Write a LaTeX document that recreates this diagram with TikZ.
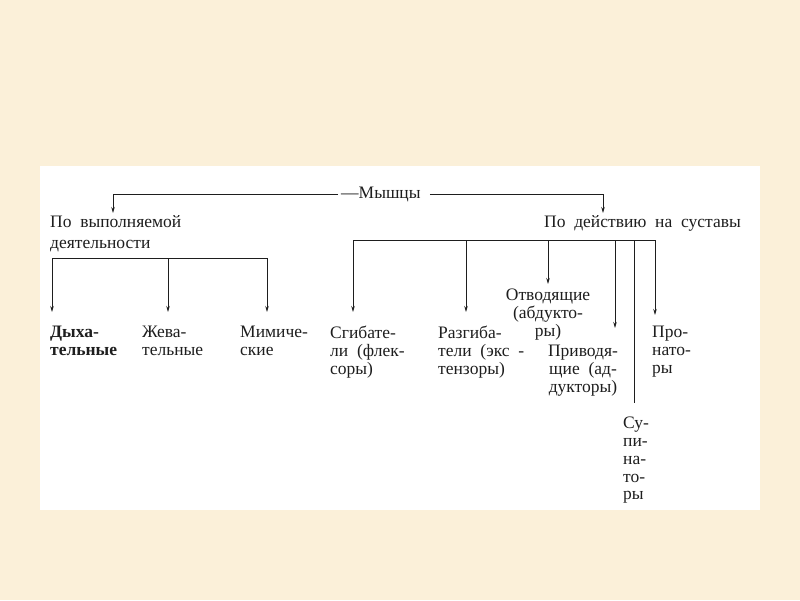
\documentclass[tikz,border=0pt]{standalone}
\usepackage{fontspec}
\setmainfont[WordSpace=2]{Liberation Serif}
\usetikzlibrary{arrows.meta}
\definecolor{beige}{HTML}{FBF0D9}
\definecolor{ink}{HTML}{1E1E1E}
\begin{document}
\begin{tikzpicture}[x=1pt,y=-1pt,
  txt/.style={anchor=north west, inner sep=0pt, align=left, text=ink,
    font=\fontsize{17.5}{17.8}\selectfont},
  ln/.style={line width=0.8pt, draw=ink},
  arr/.style={ln, -{Stealth[length=6pt,width=3.5pt]}}]
\fill[beige] (0,0) rectangle (800,600);
\fill[white] (40,166) rectangle (760,510);
\useasboundingbox (0,0) rectangle (800,600);
% texts
\node[txt, anchor=west] (title) at (341,194) {—Мышцы};
\node[txt, font=\fontsize{17.5}{21}\selectfont] (act) at (50,215) {По выполняемой\\деятельности};
\node[txt, anchor=north east] (joint) at (741,215) {По действию на суставы};
\node[txt, font=\fontsize{17.5}{17.8}\selectfont\bfseries] (dyh) at (50,326) {Дыха-\\тельные};
\node[txt] (zhe) at (142,326) {Жева-\\тельные};
\node[txt] (mim) at (240,326) {Мимиче-\\ские};
\node[txt] (sgi) at (330,326) {Сгибате-\\ли (флек-\\соры)};
\node[txt] (raz) at (438,326) {Разгиба-\\тели (экс -\\тензоры)};
\node[txt, anchor=north, align=center] (otv) at (548,289) {Отводящие\\(абдукто-\\ры)};
\node[txt, anchor=north, align=center] (pri) at (583,345) {Приводя-\\щие (ад-\\дукторы)};
\node[txt] (pro) at (652,326) {Про-\\нато-\\ры};
\node[txt] (sup) at (623,417) {Су-\\пи-\\на-\\то-\\ры};
% top connectors
\coordinate (al) at (113,213);
\coordinate (ar) at (603,213);
\draw[arr] ([xshift=-3pt]title.west) -| (al);
\draw[arr] ([xshift=9pt]title.east) -| (ar);
% left subtree
\coordinate (l1) at (52,258);
\coordinate (l2) at (168,258);
\coordinate (l3) at (267,258);
\draw[ln] (l1) -- (l3);
\draw[arr] (l1) -- (52,312);
\draw[arr] (l2) -- (168,312);
\draw[arr] (l3) -- (267,312);
% right subtree
\coordinate (r1) at (353,240);
\coordinate (r2) at (466,240);
\coordinate (r3) at (548,240);
\coordinate (r4) at (615,240);
\coordinate (r5) at (634,240);
\coordinate (r6) at (655,240);
\draw[ln] (r1) -- (r6);
\draw[arr] (r1) -- (353,312);
\draw[arr] (r2) -- (466,312);
\draw[arr] (r3) -- (548,284);
\draw[arr] (r4) -- (615,328);
\draw[ln] (r5) -- (634,403);
\draw[arr] (r6) -- (655,315);
\end{tikzpicture}
\end{document}
